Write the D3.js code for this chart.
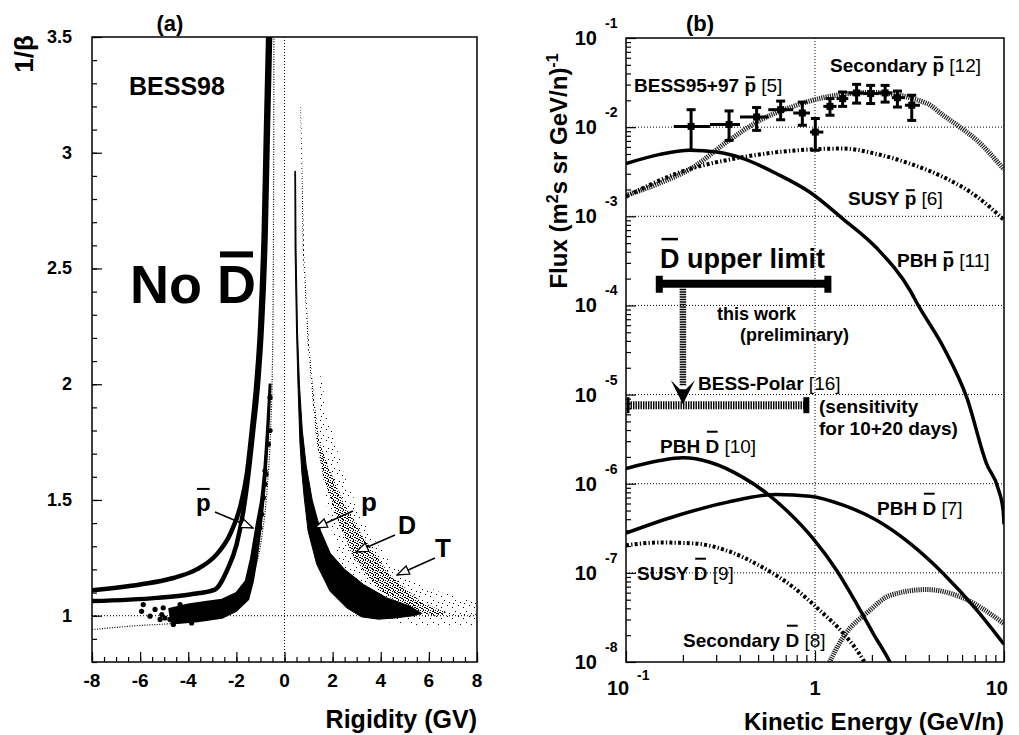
<!DOCTYPE html>
<html>
<head>
<meta charset="utf-8">
<script src="https://cdn.jsdelivr.net/npm/d3@7/dist/d3.min.js"></script>
<style>
body { margin: 0; background: #fff; }
svg text { font-family: "Liberation Sans", Arial, Helvetica, sans-serif; font-weight: bold; fill: #000; }
</style>
</head>
<body>
<div class="chart"></div>
<script>
// ===== panel (a) : 1/beta vs rigidity, BESS98 =====
const rigidityTicks = [-8, -6, -4, -2, 0, 2, 4, 6, 8];
const invBetaTicks = [1, 1.5, 2, 2.5, 3, 3.5];

// antiproton selection curves  [R (GV), 1/beta]
const cutOuter = [[-8.0,1.11],[-6.0,1.135],[-4.62,1.163],[-3.65,1.20],[-2.82,1.265],[-2.27,1.35],[-1.85,1.467],
  [-1.57,1.61],[-1.36,1.80],[-1.16,2.015],[-1.02,2.23],[-0.86,2.665],[-0.77,3.1],[-0.68,3.5]];
const cutInner = [[-8.0,1.063],[-5.31,1.077],[-3.93,1.092],[-2.89,1.113],[-2.40,1.193],[-1.99,1.308],[-1.71,1.452],
  [-1.50,1.611],[-1.30,1.80],[-1.09,2.015],[-0.95,2.23],[-0.78,2.665],[-0.69,3.1],[-0.60,3.5]];
const cutLower = [[-8.0,0.94],[-6.4,0.955],[-4.3,0.97],[-2.96,0.99],[-1.99,1.048],[-1.43,1.149],[-0.95,1.337],
  [-0.72,1.55],[-0.58,1.8],[-0.50,2.1],[-0.46,2.6],[-0.44,3.5]];

// event populations drawn as outlines  [R, 1/beta]
const protonBand = [[0.43,2.92],[0.44,2.58],[0.50,2.23],[0.56,2.0],[0.64,1.75],[0.72,1.62],[0.82,1.51],[0.98,1.366],
  [1.34,1.222],[1.89,1.106],[2.58,1.034],[3.2,0.995],[3.9,0.985],[4.6,0.99],[5.35,1.0],[5.7,1.01],
  [5.22,1.041],[4.25,1.077],[3.28,1.135],[2.5,1.20],[1.9,1.27],[1.5,1.366],[1.15,1.50],[0.9,1.65],
  [0.74,1.8],[0.62,2.0],[0.54,2.23],[0.48,2.58],[0.46,2.92]];
const deuteronBand = [[0.66,3.2],[0.76,2.58],[0.95,2.2],[1.15,1.95],[1.33,1.75],[1.61,1.6],[2.17,1.423],[2.86,1.25],
  [3.97,1.106],[5.35,1.019],[6.2,1.0],[6.74,1.012],[5.63,1.063],[4.38,1.178],[3.28,1.337],[2.4,1.5],
  [1.8,1.65],[1.45,1.75],[1.22,1.95],[1.0,2.2],[0.81,2.58],[0.69,3.2]];
const tritonCloud = [[1.5,2.05],[1.75,1.885],[2.5,1.6],[3.5,1.36],[4.5,1.22],[5.35,1.149],[6.5,1.10],[7.95,1.07],
  [7.95,0.96],[5.5,0.96],[4.0,0.975],[3.0,1.06],[2.2,1.25],[1.7,1.5],[1.4,1.8]];
const antiprotonBand = [[-4.7,0.965],[-3.6,0.975],[-2.6,0.99],[-2.0,1.02],[-1.5,1.07],[-1.3,1.15],[-1.14,1.25],
  [-0.98,1.38],[-0.86,1.5],[-0.78,1.6],[-0.66,1.8],[-0.57,2.0],[-0.63,2.0],[-0.74,1.8],[-0.86,1.62],
  [-0.98,1.5],[-1.16,1.4],[-1.4,1.25],[-1.62,1.15],[-2.0,1.1],[-2.6,1.07],[-3.3,1.06],[-4.0,1.05],[-4.8,1.03]];
const antiprotonEvents = [[-5.87,1.048],[-5.94,1.019],[-5.59,0.998],[-5.38,1.027],[-5.10,1.005],[-5.04,1.034],
  [-4.97,0.99],[-4.62,0.962],[-4.48,0.984],[-4.21,1.019],[-4.0,0.99],[-3.86,0.969],[-3.51,1.005],[-3.23,0.99],
  [-2.89,0.998],[-2.54,1.019],[-2.27,1.048],[-1.85,1.063],[-1.71,1.12],[-1.43,1.163],[-1.23,1.25],[-1.16,1.308],
  [-1.02,1.38],[-0.95,1.438],[-0.88,1.51],[-0.81,1.568],[-0.77,1.611],[-0.81,1.626],[-0.67,1.741],[-0.60,1.80],
  [-0.60,1.943],[-4.34,1.048],[-5.17,0.984],[-4.76,0.984]];

// ===== panel (b) : flux vs kinetic energy =====
const energyTicks = [0.1, 1, 10];
const energyTickLabels = [["10","-1"], ["1",""], ["10",""]];
const fluxTicks = [1e-8, 1e-7, 1e-6, 1e-5, 1e-4, 1e-3, 1e-2, 1e-1];
const fluxTickExp = ["-8","-7","-6","-5","-4","-3","-2","-1"];

// BESS95+97 antiprotons
const bessE    = [0.221,0.351,0.491,0.658,0.857,1.004,1.20,1.40,1.66,1.97,2.35,2.73,3.25];
const bessELo  = [0.179,0.278,0.401,0.566,0.767,0.941,1.107,1.30,1.50,1.80,2.16,2.55,2.99];
const bessEHi  = [0.278,0.401,0.566,0.767,0.941,1.107,1.30,1.50,1.80,2.16,2.55,2.99,3.59];
const bessFlux = [1.02e-2,1.07e-2,1.30e-2,1.57e-2,1.44e-2,8.8e-3,1.71e-2,2.09e-2,2.42e-2,2.38e-2,2.42e-2,2.14e-2,1.76e-2];
const bessLo   = [5.5e-3,7.1e-3,9.2e-3,1.21e-2,1.05e-2,5.5e-3,1.36e-2,1.71e-2,1.86e-2,1.84e-2,1.91e-2,1.68e-2,1.19e-2];
const bessHi   = [1.57e-2,1.52e-2,1.66e-2,1.96e-2,1.91e-2,1.25e-2,2.09e-2,2.48e-2,3.02e-2,2.94e-2,2.94e-2,2.54e-2,2.28e-2];

// model curves  [E (GeV/n), flux]
const pbhPbar = [[0.1,3.9e-3],[0.151,4.95e-3],[0.218,5.5e-3],[0.302,5.25e-3],[0.418,4.43e-3],[0.627,3.0e-3],
  [0.94,1.86e-3],[1.41,9.3e-4],[2.12,4.4e-4],[3.18,1.48e-4],[3.52,1.0e-4],[4.78,3.4e-5],[6.35,9.3e-6],
  [8.1,1.66e-6],[9.3,8.9e-7],[9.9,5.0e-7],[10,3.5e-7]];
const secPbar = [[0.1,1.72e-3],[0.151,2.36e-3],[0.227,3.56e-3],[0.341,6.81e-3],[0.51,1.19e-2],[0.768,1.71e-2],
  [1.15,2.18e-2],[2.0,2.45e-2],[3.9,1.85e-2],[4.78,1.35e-2],[5.85,1.0e-2],[7.2,7.1e-3],[10,3.35e-3]];
const susyPbar = [[0.1,1.66e-3],[0.185,3.02e-3],[0.418,4.62e-3],[0.94,5.62e-3],[1.41,5.75e-3],[2.12,5.0e-3],
  [3.18,3.89e-3],[4.78,2.75e-3],[7.2,1.66e-3],[10,9.1e-4]];
const pbhDbar10 = [[0.1,1.48e-6],[0.151,1.82e-6],[0.2,1.95e-6],[0.278,1.74e-6],[0.418,1.17e-6],[0.556,7.8e-7],
  [0.708,5.0e-7],[0.98,2.4e-7],[1.30,1.07e-7],[1.66,4.5e-8],[2.03,2.1e-8],[2.49,1.0e-8],[2.7,7e-9]];
const pbhDbar7 = [[0.1,2.79e-7],[0.185,4.37e-7],[0.341,6.17e-7],[0.627,7.59e-7],[0.94,7.24e-7],[1.41,5.75e-7],
  [2.12,3.89e-7],[3.18,2.14e-7],[4.78,9.8e-8],[7.2,3.8e-8],[10,1.58e-8]];
const susyDbar = [[0.1,2.04e-7],[0.151,2.19e-7],[0.227,2.14e-7],[0.341,1.78e-7],[0.51,1.2e-7],[0.768,6.9e-8],
  [1.06,3.8e-8],[1.41,2.1e-8],[1.8,1.05e-8],[1.9,8.5e-9]];
const secDbar = [[1.15,8.5e-9],[1.41,1.9e-8],[1.95,3.8e-8],[2.5,5.6e-8],[3.9,6.5e-8],[5.85,5.4e-8],[10,2.7e-8]];

// anti-deuteron limit (this work) and BESS-Polar sensitivity
const limitRange = [0.15, 1.17];
const limitFlux = 1.75e-4;
const polarRange = [0.1, 0.9];
const polarFlux = 7.6e-6;
const arrowEnergy = 0.2;

// ------------------------------------------------------------
const width = 1019, height = 735;
const boxA = { left: 92, top: 37, right: 477, bottom: 662 };
const boxB = { left: 626, top: 38, right: 1004, bottom: 662 };

const svg = d3.select('.chart').append('svg')
    .attr('width', width)
    .attr('height', height);
const defs = svg.append('defs');

defs.append('clipPath').attr('id', 'clipA').append('rect')
    .attr('x', boxA.left).attr('y', boxA.top)
    .attr('width', boxA.right - boxA.left).attr('height', boxA.bottom - boxA.top);
defs.append('clipPath').attr('id', 'clipB').append('rect')
    .attr('x', boxB.left).attr('y', boxB.top)
    .attr('width', boxB.right - boxB.left).attr('height', boxB.bottom - boxB.top);

// stipple textures for the event clouds
function stipple(id, size, pixels) {
    const p = defs.append('pattern').attr('id', id)
        .attr('patternUnits', 'userSpaceOnUse')
        .attr('width', size).attr('height', size);
    pixels.forEach(([px, py]) => p.append('rect')
        .attr('x', px).attr('y', py).attr('width', 1).attr('height', 1).attr('fill', '#000'));
}
stipple('dense', 5, [[0,0],[2,1],[4,2],[1,3],[3,4],[3,0],[0,2],[2,3]]);
stipple('sparse', 11, [[1,2],[7,0],[4,6],[9,8],[2,9]]);

defs.append('marker').attr('id', 'openArrow')
    .attr('viewBox', '-1 -6 14 12')
    .attr('refX', 12).attr('refY', 0)
    .attr('markerWidth', 14).attr('markerHeight', 12)
    .attr('markerUnits', 'userSpaceOnUse')
    .attr('orient', 'auto')
    .append('path')
    .attr('d', 'M0,-4.5 L12,0 L0,4.5 Z')
    .attr('fill', '#fff').attr('stroke', '#000').attr('stroke-width', 1.3);

// text with tspans and drawn over-bars
function richLabel(g, x, y, size, parts) {
    const t = g.append('text').attr('x', x).attr('y', y).attr('font-size', size);
    parts.forEach(p => {
        const ts = t.append('tspan').text(p.t);
        if (p.normal) ts.attr('font-weight', 'normal');
    });
    const node = t.node();
    let idx = 0;
    parts.forEach(p => {
        if (p.bar) {
            const e0 = node.getExtentOfChar(idx);
            const e1 = node.getExtentOfChar(idx + p.t.length - 1);
            const x0 = e0.x + p.bar.inset, x1 = e1.x + e1.width - p.bar.inset;
            g.append('rect')
                .attr('x', x0).attr('width', x1 - x0)
                .attr('y', y - p.bar.rise * size - p.bar.th / 2)
                .attr('height', p.bar.th);
        }
        idx += p.t.length;
    });
    return t;
}

// ================= panel (a) =================
const xA = d3.scaleLinear().domain([-8, 8]).range([boxA.left, boxA.right]);
const yA = d3.scaleLinear().domain([0.8, 3.5]).range([boxA.bottom, boxA.top]);
const gA = svg.append('g').attr('class', 'panelA');
const plotA = gA.append('g').attr('clip-path', 'url(#clipA)');

const closedA = d3.line().x(d => xA(d[0])).y(d => yA(d[1])).curve(d3.curveLinearClosed);
const openA = d3.line().x(d => xA(d[0])).y(d => yA(d[1])).curve(d3.curveMonotoneX);

plotA.append('path').attr('d', closedA(tritonCloud)).attr('fill', 'url(#sparse)');
plotA.append('path').attr('d', closedA(deuteronBand)).attr('fill', 'url(#dense)');
plotA.append('path').attr('d', closedA(protonBand)).attr('fill', '#000')
    .attr('stroke', '#000').attr('stroke-width', 1).attr('stroke-linejoin', 'round');

// dotted reference lines at 1/beta = 1 and R = 0
plotA.append('line')
    .attr('x1', boxA.left).attr('x2', boxA.right)
    .attr('y1', yA(1)).attr('y2', yA(1))
    .attr('stroke', '#000').attr('stroke-width', 1).attr('stroke-dasharray', '1,2');
plotA.append('line')
    .attr('x1', xA(0)).attr('x2', xA(0))
    .attr('y1', boxA.top).attr('y2', boxA.bottom)
    .attr('stroke', '#000').attr('stroke-width', 1).attr('stroke-dasharray', '1,2');

plotA.append('path').attr('d', openA(cutLower))
    .attr('fill', 'none').attr('stroke', '#000').attr('stroke-width', 1.2).attr('stroke-dasharray', '1,1.5');
plotA.append('path').attr('d', closedA(antiprotonBand)).attr('fill', '#000')
    .attr('stroke', '#000').attr('stroke-width', 1.5).attr('stroke-linejoin', 'round');
plotA.selectAll('.pbar-event')
    .data(antiprotonEvents)
    .enter()
    .append('circle')
    .attr('class', 'pbar-event')
    .attr('cx', d => xA(d[0])).attr('cy', d => yA(d[1]))
    .attr('r', 2.6).attr('fill', '#000');
[cutOuter, cutInner].forEach(c => plotA.append('path').attr('d', openA(c))
    .attr('fill', 'none').attr('stroke', '#000').attr('stroke-width', 4.5));

// frame and ticks
gA.append('rect')
    .attr('x', boxA.left).attr('y', boxA.top)
    .attr('width', boxA.right - boxA.left).attr('height', boxA.bottom - boxA.top)
    .attr('fill', 'none').attr('stroke', '#000').attr('stroke-width', 1.5);

const minorYA = d3.range(8, 36).map(v => v / 10);
const minorXA = d3.range(-16, 17).map(v => v / 2);
gA.append('g').attr('transform', `translate(${boxA.left},0)`)
    .call(d3.axisLeft(yA).tickValues(minorYA).tickSize(-5).tickFormat(''))
    .call(g => g.select('.domain').remove());
gA.append('g').attr('transform', `translate(${boxA.left},0)`)
    .call(d3.axisLeft(yA).tickValues(invBetaTicks).tickSize(-10).tickFormat(''))
    .call(g => g.select('.domain').remove());
gA.append('g').attr('transform', `translate(0,${boxA.bottom})`)
    .call(d3.axisBottom(xA).tickValues(minorXA).tickSize(-5).tickFormat(''))
    .call(g => g.select('.domain').remove());
gA.append('g').attr('transform', `translate(0,${boxA.bottom})`)
    .call(d3.axisBottom(xA).tickValues(rigidityTicks).tickSize(-10).tickFormat(''))
    .call(g => g.select('.domain').remove());
gA.selectAll('.tick line').attr('stroke-width', 1.2);

gA.selectAll('.ylab')
    .data(invBetaTicks)
    .enter()
    .append('text')
    .attr('x', 72).attr('y', d => yA(d) + 6)
    .attr('text-anchor', 'end').attr('font-size', 18)
    .text(d => d);
gA.selectAll('.xlab')
    .data(rigidityTicks)
    .enter()
    .append('text')
    .attr('x', d => xA(d)).attr('y', 687)
    .attr('text-anchor', 'middle').attr('font-size', 19)
    .text(d => d);

gA.append('text').attr('x', 477).attr('y', 728).attr('text-anchor', 'end')
    .attr('font-size', 25).text('Rigidity (GV)');
gA.append('text').attr('transform', 'translate(33,54) rotate(-90)')
    .attr('text-anchor', 'middle').attr('font-size', 26).text('1/β');
gA.append('text').attr('x', 170).attr('y', 31).attr('text-anchor', 'middle')
    .attr('font-size', 22).text('(a)');
gA.append('text').attr('x', 129).attr('y', 95).attr('font-size', 25).text('BESS98');
richLabel(gA, 130, 303, 54, [{ t: 'No ' }, { t: 'D', bar: { rise: 0.9, th: 6, inset: 3 } }]);

// particle labels with arrows
richLabel(gA, 196, 511, 24, [{ t: 'p', bar: { rise: 0.92, th: 2, inset: 1 } }]);
gA.append('text').attr('x', 361).attr('y', 511).attr('font-size', 26).text('p');
gA.append('text').attr('x', 398).attr('y', 534).attr('font-size', 25).text('D');
gA.append('text').attr('x', 435).attr('y', 557).attr('font-size', 26).text('T');
[[215, 512, 253, 528], [353, 511, 315, 528], [395, 535, 356, 552], [435, 558, 397, 575]].forEach(a => {
    gA.append('line')
        .attr('x1', a[0]).attr('y1', a[1]).attr('x2', a[2]).attr('y2', a[3])
        .attr('stroke', '#000').attr('stroke-width', 1.5)
        .attr('marker-end', 'url(#openArrow)');
});

// ================= panel (b) =================
const xB = d3.scaleLog().domain([0.1, 10]).range([boxB.left, boxB.right]);
const yB = d3.scaleLog().domain([1e-8, 1e-1]).range([boxB.bottom, boxB.top]);
const gB = svg.append('g').attr('class', 'panelB');
const plotB = gB.append('g').attr('clip-path', 'url(#clipB)');

// dotted grid
plotB.selectAll('.hgrid')
    .data(fluxTicks.slice(1, -1))
    .enter()
    .append('line')
    .attr('x1', boxB.left).attr('x2', boxB.right)
    .attr('y1', d => yB(d)).attr('y2', d => yB(d))
    .attr('stroke', '#000').attr('stroke-width', 1).attr('stroke-dasharray', '1,2');
plotB.append('line')
    .attr('x1', xB(1)).attr('x2', xB(1))
    .attr('y1', boxB.top).attr('y2', boxB.bottom)
    .attr('stroke', '#000').attr('stroke-width', 1).attr('stroke-dasharray', '1,2');

const lineB = d3.line().x(d => xB(d[0])).y(d => yB(d[1])).curve(d3.curveMonotoneX);
const curves = [
    { data: secPbar,   stroke: '#222', width: 5,   dash: '1.2,1' },
    { data: secDbar,   stroke: '#222', width: 5,   dash: '1.2,1' },
    { data: susyPbar,  stroke: '#000', width: 4,   dash: '3,2.2,1.3,2.2' },
    { data: susyDbar,  stroke: '#000', width: 4,   dash: '3,2.2,1.3,2.2' },
    { data: pbhPbar,   stroke: '#000', width: 3.5, dash: null },
    { data: pbhDbar10, stroke: '#000', width: 3.5, dash: null },
    { data: pbhDbar7,  stroke: '#000', width: 3.5, dash: null }
];
plotB.selectAll('.model')
    .data(curves)
    .enter()
    .append('path')
    .attr('class', 'model')
    .attr('d', d => lineB(d.data))
    .attr('fill', 'none')
    .attr('stroke', d => d.stroke)
    .attr('stroke-width', d => d.width)
    .attr('stroke-dasharray', d => d.dash);

// BESS95+97 points with error bars
const bess = bessE.map((e, i) => ({ e, lo: bessELo[i], hi: bessEHi[i], f: bessFlux[i], fLo: bessLo[i], fHi: bessHi[i] }));
const pts = plotB.selectAll('.bess').data(bess).enter().append('g').attr('class', 'bess');
pts.append('line')
    .attr('x1', d => xB(d.lo)).attr('x2', d => xB(d.hi))
    .attr('y1', d => yB(d.f)).attr('y2', d => yB(d.f))
    .attr('stroke', '#000').attr('stroke-width', 3);
pts.append('line')
    .attr('x1', d => xB(d.e)).attr('x2', d => xB(d.e))
    .attr('y1', d => yB(d.fLo)).attr('y2', d => yB(d.fHi))
    .attr('stroke', '#000').attr('stroke-width', 3);
['fLo', 'fHi'].forEach(k => pts.append('line')
    .attr('x1', d => xB(d.e) - 4.5).attr('x2', d => xB(d.e) + 4.5)
    .attr('y1', d => yB(d[k])).attr('y2', d => yB(d[k]))
    .attr('stroke', '#000').attr('stroke-width', 3));
pts.append('rect')
    .attr('x', d => xB(d.e) - 3.5).attr('y', d => yB(d.f) - 3.5)
    .attr('width', 7).attr('height', 7).attr('fill', '#000');

// this work: upper limit bar
const limY = yB(limitFlux);
plotB.append('line')
    .attr('x1', xB(limitRange[0])).attr('x2', xB(limitRange[1]))
    .attr('y1', limY).attr('y2', limY)
    .attr('stroke', '#000').attr('stroke-width', 8);
limitRange.forEach(e => plotB.append('rect')
    .attr('x', xB(e) - 3.5).attr('y', limY - 8).attr('width', 7).attr('height', 17).attr('fill', '#000'));

// BESS-Polar sensitivity bar
const polY = yB(polarFlux);
plotB.append('line')
    .attr('x1', xB(polarRange[0]) + 2).attr('x2', xB(polarRange[1]))
    .attr('y1', polY).attr('y2', polY)
    .attr('stroke', '#000').attr('stroke-width', 8).attr('stroke-dasharray', '1.4,1.1');
plotB.append('rect').attr('x', xB(polarRange[0]) + 1).attr('y', polY - 8).attr('width', 2.5).attr('height', 16);
plotB.append('rect').attr('x', xB(polarRange[1]) - 3).attr('y', polY - 8).attr('width', 6).attr('height', 16);

// dotted arrow from limit down to the sensitivity
const ax = xB(arrowEnergy), tipY = polY - 1;
plotB.append('line')
    .attr('x1', ax).attr('x2', ax)
    .attr('y1', limY + 5).attr('y2', tipY - 18)
    .attr('stroke', '#000').attr('stroke-width', 6.5).attr('stroke-dasharray', '1.4,1.1');
plotB.append('path')
    .attr('d', `M${ax - 12},${tipY - 24} L${ax},${tipY} L${ax + 12},${tipY - 24} L${ax + 3},${tipY - 15} L${ax - 3},${tipY - 15} Z`)
    .attr('fill', '#000');

// frame and log ticks
gB.append('rect')
    .attr('x', boxB.left).attr('y', boxB.top)
    .attr('width', boxB.right - boxB.left).attr('height', boxB.bottom - boxB.top)
    .attr('fill', 'none').attr('stroke', '#000').attr('stroke-width', 1.5);

const minorYB = fluxTicks.slice(0, -1).flatMap(d => d3.range(2, 10).map(k => k * d));
const minorXB = energyTicks.slice(0, -1).flatMap(d => d3.range(2, 10).map(k => k * d));
gB.append('g').attr('transform', `translate(${boxB.left},0)`)
    .call(d3.axisLeft(yB).tickValues(minorYB).tickSize(-5).tickFormat(''))
    .call(g => g.select('.domain').remove());
gB.append('g').attr('transform', `translate(${boxB.left},0)`)
    .call(d3.axisLeft(yB).tickValues(fluxTicks).tickSize(-10).tickFormat(''))
    .call(g => g.select('.domain').remove());
gB.append('g').attr('transform', `translate(0,${boxB.bottom})`)
    .call(d3.axisBottom(xB).tickValues(minorXB).tickSize(-7).tickFormat(''))
    .call(g => g.select('.domain').remove());
gB.append('g').attr('transform', `translate(0,${boxB.bottom})`)
    .call(d3.axisBottom(xB).tickValues(energyTicks).tickSize(-11).tickFormat(''))
    .call(g => g.select('.domain').remove());
gB.selectAll('.tick line').attr('stroke-width', 1.2);

fluxTicks.forEach((d, i) => {
    gB.append('text').attr('x', 597).attr('y', yB(d) + 7)
        .attr('text-anchor', 'end').attr('font-size', 20).text('10');
    gB.append('text').attr('x', 605).attr('y', yB(d) - 10)
        .attr('font-size', 14).text(fluxTickExp[i]);
});
energyTicks.forEach((d, i) => {
    const [base, exp] = energyTickLabels[i];
    if (exp) {
        gB.append('text').attr('x', xB(d) - 8).attr('y', 695)
            .attr('text-anchor', 'middle').attr('font-size', 20).text(base);
        gB.append('text').attr('x', xB(d) + 11).attr('y', 680)
            .attr('font-size', 14).text(exp);
    } else if (i === energyTicks.length - 1) {
        gB.append('text').attr('x', xB(d) + 4).attr('y', 695)
            .attr('text-anchor', 'end').attr('font-size', 20).text(base);
    } else {
        gB.append('text').attr('x', xB(d)).attr('y', 695)
            .attr('text-anchor', 'middle').attr('font-size', 20).text(base);
    }
});

gB.append('text').attr('x', 1004).attr('y', 730).attr('text-anchor', 'end')
    .attr('font-size', 24).text('Kinetic Energy (GeV/n)');
const yTitle = gB.append('text').attr('transform', 'translate(567,171) rotate(-90)')
    .attr('text-anchor', 'middle').attr('font-size', 24);
yTitle.append('tspan').text('Flux (m');
yTitle.append('tspan').attr('dy', -9).attr('font-size', 16).text('2');
yTitle.append('tspan').attr('dy', 9).text('s sr GeV/n)');
yTitle.append('tspan').attr('dy', -9).attr('font-size', 16).text('-1');
gB.append('text').attr('x', 700).attr('y', 31).attr('text-anchor', 'middle')
    .attr('font-size', 22).text('(b)');

// curve and data labels
const pBar = { rise: 0.78, th: 2, inset: 1.5 };
const dBar = { rise: 1.12, th: 2, inset: 1.5 };
const fs = 19;
richLabel(gB, 830, 72, fs, [{ t: 'Secondary ' }, { t: 'p', bar: pBar }, { t: ' [12]', normal: true }]);
richLabel(gB, 634, 92, fs, [{ t: 'BESS95+97 ' }, { t: 'p', bar: pBar }, { t: ' [5]', normal: true }]);
richLabel(gB, 848, 205, fs, [{ t: 'SUSY ' }, { t: 'p', bar: pBar }, { t: ' [6]', normal: true }]);
richLabel(gB, 897, 267, fs, [{ t: 'PBH ' }, { t: 'p', bar: pBar }, { t: ' [11]', normal: true }]);
richLabel(gB, 660, 268, 27, [{ t: 'D', bar: { rise: 1.07, th: 2.5, inset: 1.5 } }, { t: ' upper limit' }]);
gB.append('text').attr('x', 717).attr('y', 320).attr('font-size', 18).text('this work');
gB.append('text').attr('x', 740).attr('y', 341).attr('font-size', 18).text('(preliminary)');
richLabel(gB, 698, 390, fs, [{ t: 'BESS-Polar' }, { t: ' [16]', normal: true }]);
gB.append('text').attr('x', 819).attr('y', 413).attr('font-size', fs).text('(sensitivity');
gB.append('text').attr('x', 819).attr('y', 435).attr('font-size', fs).text('for 10+20 days)');
richLabel(gB, 660, 453, fs, [{ t: 'PBH ' }, { t: 'D', bar: dBar }, { t: ' [10]', normal: true }]);
richLabel(gB, 877, 515, fs, [{ t: 'PBH ' }, { t: 'D', bar: dBar }, { t: ' [7]', normal: true }]);
richLabel(gB, 637, 580, fs, [{ t: 'SUSY ' }, { t: 'D', bar: dBar }, { t: ' [9]', normal: true }]);
richLabel(gB, 683, 647, fs, [{ t: 'Secondary ' }, { t: 'D', bar: dBar }, { t: ' [8]', normal: true }]);
</script>
</body>
</html>
